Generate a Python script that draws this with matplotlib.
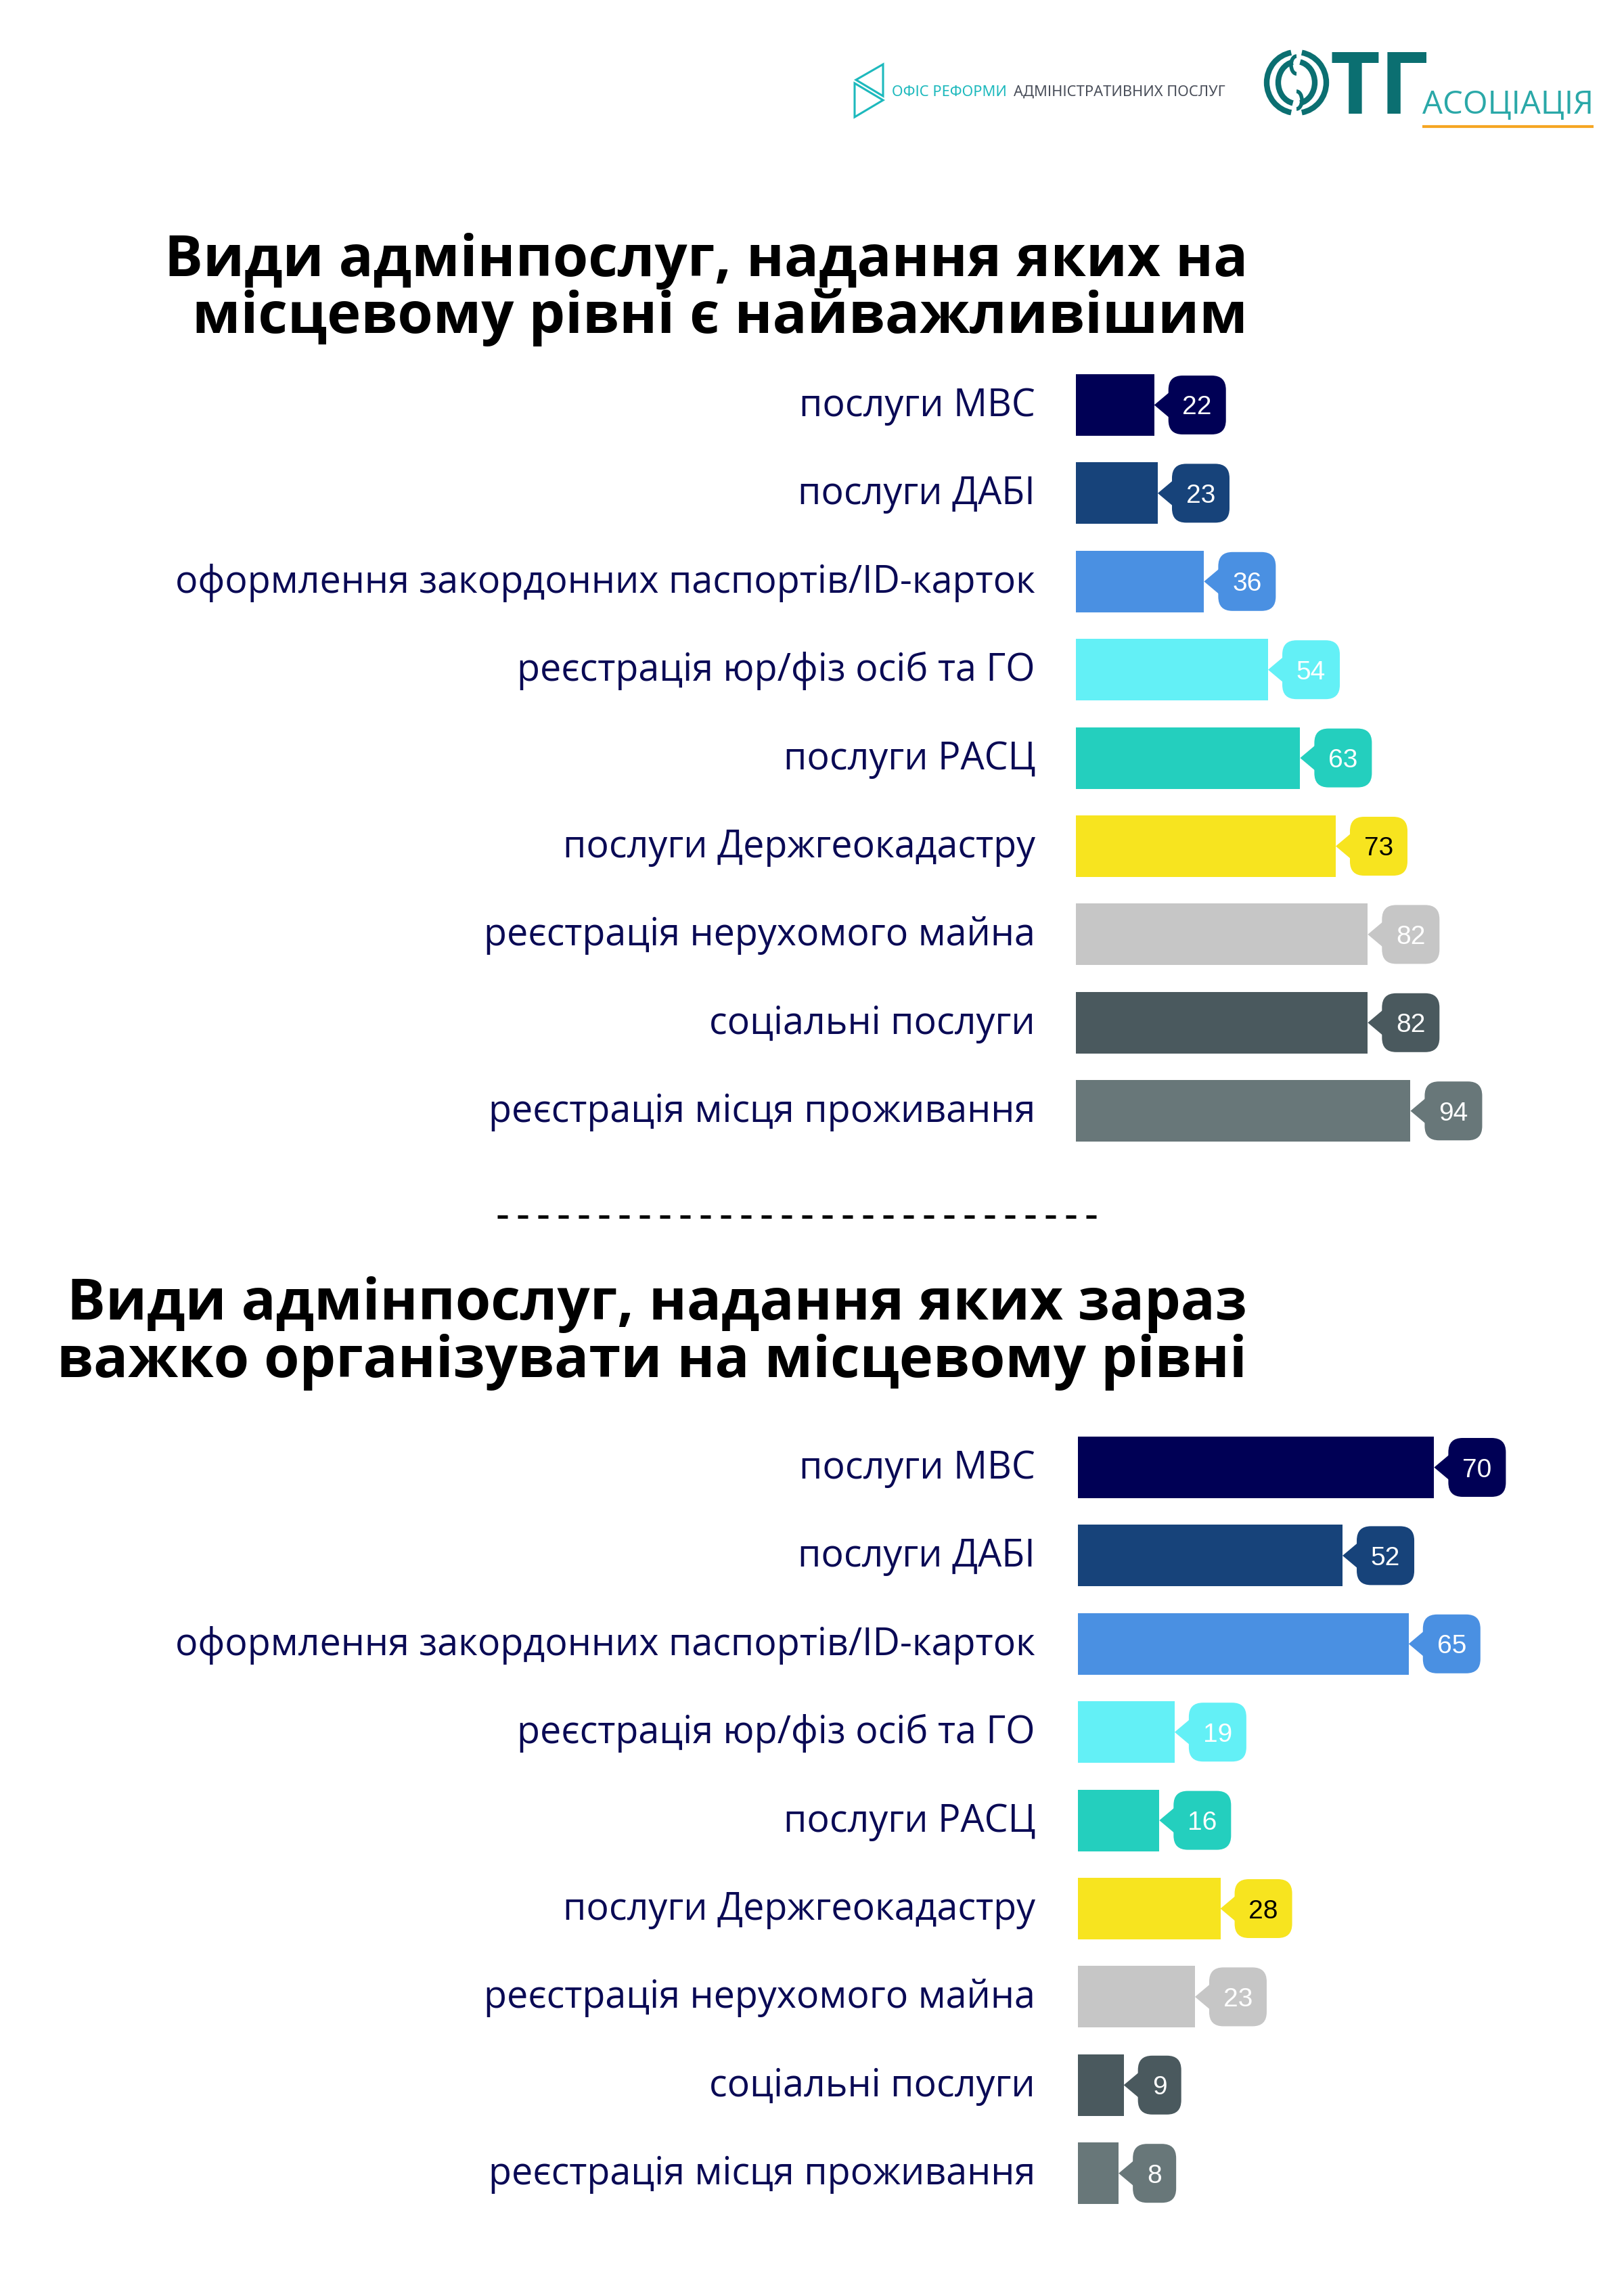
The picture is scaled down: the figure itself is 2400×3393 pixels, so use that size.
import matplotlib
matplotlib.use("Agg")
import matplotlib.pyplot as plt
from matplotlib.patches import FancyBboxPatch, Polygon, Arc
from matplotlib.transforms import IdentityTransform
from matplotlib.lines import Line2D

# ---------------- data ----------------
categories = [
    "послуги МВС",
    "послуги ДАБІ",
    "оформлення закордонних паспортів/ID-карток",
    "реєстрація юр/фіз осіб та ГО",
    "послуги РАСЦ",
    "послуги Держгеокадастру",
    "реєстрація нерухомого майна",
    "соціальні послуги",
    "реєстрація місця проживання",
]
important_values = [22, 23, 36, 54, 63, 73, 82, 82, 94]
difficult_values = [70, 52, 65, 19, 16, 28, 23, 9, 8]
title_important = ["Види адмінпослуг, надання яких на", "місцевому рівні є найважливішим"]
title_difficult = ["Види адмінпослуг, надання яких зараз", "важко організувати на місцевому рівні"]
logo_office = ["ОФІС РЕФОРМИ", "АДМІНІСТРАТИВНИХ ПОСЛУГ"]
logo_otg = ["ТГ", "АСОЦІАЦІЯ"]

# ---------------- style ----------------
bar_colors = ["#000055", "#17437A", "#4A90E2", "#63F0F6", "#24CFBE",
              "#F7E41F", "#C6C6C6", "#4A595E", "#687779"]
value_text_colors = ["white", "white", "white", "white", "white",
                     "black", "white", "white", "white"]
label_color = "#0a0a55"

W, H = 2400, 3393
fig = plt.figure(figsize=(W / 100, H / 100), dpi=100)
fig.patch.set_facecolor("white")
ID = IdentityTransform()
renderer = fig.canvas.get_renderer()


def dy(y):
    """image-pixel y (from top) -> display y (from bottom)"""
    return H - y


def text_width(t):
    return t.get_window_extent(renderer).width


# ---------------- titles ----------------
TITLE_FONT = ["Open Sans", "DejaVu Sans"]
probe = fig.text(0, 0, title_important[0], fontsize=50, fontweight="bold",
                 family=TITLE_FONT, transform=ID)
title_size = 50 * 1600 / text_width(probe)
probe.remove()


def title(lines, right, baselines):
    for s, b in zip(lines, baselines):
        fig.text(right, dy(b), s, fontsize=title_size, fontweight="bold",
                 family=TITLE_FONT, ha="right", va="baseline",
                 color="black", transform=ID)


title(title_important, 1844, [408, 492])
title(title_difficult, 1843, [1950, 2035])

# ---------------- labels font size ----------------
LABEL_FONT = ["Open Sans", "DejaVu Sans"]
probe = fig.text(0, 0, categories[2], fontsize=40, family=LABEL_FONT, transform=ID)
label_size = 40 * 1269 / text_width(probe)
probe.remove()

BUB_FONT = ["Liberation Sans", "DejaVu Sans"]


# ---------------- panels ----------------
def panel(values, left, top_center, spacing, px_per_unit):
    n = len(values)
    top = top_center - spacing / 2
    height = spacing * n
    width = 800
    ax = fig.add_axes([left / W, 1 - (top + height) / H, width / W, height / H])
    ax.barh(range(n), values, height=0.698, color=bar_colors, linewidth=0)
    ax.set_xlim(0, width / px_per_unit)
    ax.set_ylim(n - 0.5, -0.5)
    ax.axis("off")

    for i, v in enumerate(values):
        x0, yc = ax.transData.transform((v, i))
        col = bar_colors[i]
        tip = 21
        bw = 85 if v >= 10 else 64
        bh = 87
        bx = x0 + tip
        body = FancyBboxPatch((bx, yc - bh / 2), bw, bh,
                              boxstyle="round,pad=0,rounding_size=21",
                              facecolor=col, edgecolor="none", transform=ID)
        fig.add_artist(body)
        tri = Polygon([(x0, yc), (bx + 4, yc + 21), (bx + 4, yc - 21)],
                      closed=True, facecolor=col, edgecolor="none", transform=ID)
        fig.add_artist(tri)
        fig.text(bx + bw / 2, yc - 14, str(v), fontsize=28, family=BUB_FONT,
                 color=value_text_colors[i], ha="center", va="baseline",
                 transform=ID)

    for i, c in enumerate(categories):
        _, yc = ax.transData.transform((0, i))
        fig.text(1530, yc - 16.5, c, fontsize=label_size, family=LABEL_FONT,
                 color=label_color, ha="right", va="baseline", transform=ID)
    return ax


panel(important_values, 1590, 598.5, 130.4, 5.26)
panel(difficult_values, 1593, 2168.5, 130.4, 7.52)

# ---------------- dashed separator ----------------
fig.add_artist(Line2D([735, 1625], [dy(1798), dy(1798)], lw=3.6,
                      linestyle=(0, (3, 3)), color="black", transform=ID))

# ---------------- logos ----------------
teal_light = "#1DB9BD"
for pts in ([(1305, 95), (1265, 118), (1305, 142)],
            [(1263, 123), (1305, 148), (1263, 173)]):
    fig.add_artist(Polygon([(x, dy(y)) for x, y in pts], closed=True,
                           fill=False, edgecolor=teal_light, lw=2.2,
                           joinstyle="miter", transform=ID))

LOGO_FONT = ["Noto Sans ExtraCondensed", "Noto Sans Condensed",
             "Liberation Sans Narrow", "Noto Sans", "DejaVu Sans"]
probe = fig.text(0, 0, logo_office[0] + " " + logo_office[1], fontsize=20,
                 family=LOGO_FONT, fontstretch="condensed", transform=ID)
logo_size = 20 * 489 / text_width(probe)
probe.remove()
fig.text(1318, dy(142), logo_office[0], fontsize=logo_size, family=LOGO_FONT,
         fontstretch="condensed", color=teal_light, ha="left",
         va="baseline", transform=ID)
probe = fig.text(0, 0, logo_office[0] + " ", fontsize=logo_size, family=LOGO_FONT,
                 fontstretch="condensed", transform=ID)
off = text_width(probe)
probe.remove()
fig.text(1318 + off + 4, dy(142), logo_office[1], fontsize=logo_size,
         family=LOGO_FONT, fontstretch="condensed", color="#4A4F5A",
         ha="left", va="baseline", transform=ID)

# OTG emblem (the "О")
teal_dark = "#0B6F71"
cx, cy = 1916, dy(122)
for (w_, h_), lw in (((88, 90), 6), ((54, 62), 6)):
    fig.add_artist(Arc((cx, cy), w_, h_, theta1=100, theta2=260,
                       color=teal_dark, lw=lw, transform=ID))
    fig.add_artist(Arc((cx, cy), w_, h_, theta1=-80, theta2=80,
                       color=teal_dark, lw=lw, transform=ID))
fig.add_artist(Arc((cx, cy + 26), 16, 26, theta1=90, theta2=270,
                   color=teal_dark, lw=4, transform=ID))
fig.add_artist(Arc((cx, cy - 26), 16, 26, theta1=-90, theta2=90,
                   color=teal_dark, lw=4, transform=ID))

fig.text(1966, dy(168), logo_otg[0], fontsize=92, fontweight="bold",
         family=["Open Sans", "DejaVu Sans"], color=teal_dark, ha="left",
         va="baseline", transform=ID)
probe = fig.text(0, 0, logo_otg[1], fontsize=30, family=["Open Sans", "DejaVu Sans"],
                 transform=ID)
asoc_size = 30 * 253 / text_width(probe)
probe.remove()
fig.text(2102, dy(168), logo_otg[1], fontsize=asoc_size,
         family=["Open Sans", "DejaVu Sans"], color="#2AA8A8", ha="left",
         va="baseline", transform=ID)
fig.add_artist(Line2D([2102, 2355], [dy(187), dy(187)], lw=3, color="#F5A623",
                      solid_capstyle="butt", transform=ID))

fig.savefig("out.png", dpi=100, facecolor="white")
